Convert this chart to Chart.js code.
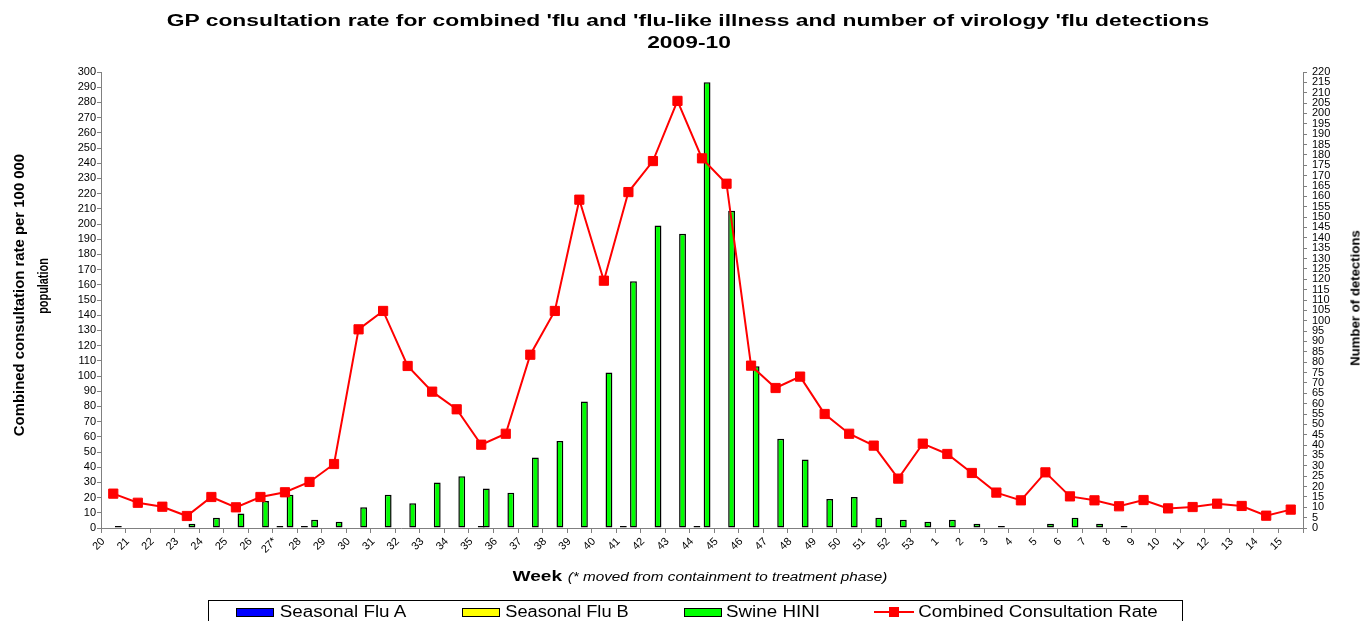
<!DOCTYPE html>
<html>
<head>
<meta charset="utf-8">
<script src="https://cdn.jsdelivr.net/npm/chart.js@4/dist/chart.umd.min.js"></script>
<style>
  body { margin: 0; width: 1372px; height: 621px; overflow: hidden; background: #fff; font-family: "Liberation Sans", Arial, sans-serif; }
  #wrap { position: absolute; left: 0; top: 0; width: 1372px; height: 621px; }
  .txt { position: absolute; white-space: nowrap; color: #000; line-height: 1; }
  .sw { position: absolute; height: 9px; border: 1px solid #000; box-sizing: border-box; }
  #legendBox { position: absolute; left: 208px; top: 600px; width: 975px; height: 40px; border: 1px solid #000; box-sizing: border-box; }
</style>
</head>
<body>
<div id="wrap"><canvas id="grafico"></canvas></div>

<div class="txt" id="t1" style="font-size:16px;font-weight:bold">GP consultation rate for combined 'flu and 'flu-like illness and number of virology 'flu detections</div>
<div class="txt" id="t2" style="font-size:16px;font-weight:bold">2009-10</div>
<div class="txt" id="yl1" style="font-size:14px;font-weight:bold">Combined consultation rate per 100 000</div>
<div class="txt" id="yl2" style="font-size:14px;font-weight:bold">population</div>
<div class="txt" id="yr" style="font-size:13px;font-weight:bold">Number of detections</div>
<div class="txt" id="xt"><span style="font-size:15px;font-weight:bold">Week</span> <span style="font-size:12px;font-style:italic">(* moved from containment to treatment phase)</span></div>

<div id="legendBox"></div>
<div class="sw" style="left:236px;top:608px;width:38px;background:#0000ff"></div>
<div class="txt" id="lg1" style="font-size:16px">Seasonal Flu A</div>
<div class="sw" style="left:462px;top:608px;width:38px;background:#ffff00"></div>
<div class="txt" id="lg2" style="font-size:16px">Seasonal Flu B</div>
<div class="sw" style="left:684px;top:608px;width:38px;background:#00ff00"></div>
<div class="txt" id="lg3" style="font-size:16px">Swine HINI</div>
<div style="position:absolute;left:874px;top:611px;width:40px;height:2px;background:#ff0000"></div>
<div style="position:absolute;left:889px;top:607px;width:10px;height:10px;background:#ff0000"></div>
<div class="txt" id="lg4" style="font-size:16px">Combined Consultation Rate</div>

<script>
// ===== Dados =====
const semanas = ['20','21','22','23','24','25','26','27*','28','29','30','31','32','33','34','35','36','37','38','39',
  '40','41','42','43','44','45','46','47','48','49','50','51','52','53',
  '1','2','3','4','5','6','7','8','9','10','11','12','13','14','15'];

// taxa de consulta (eixo esquerdo, por 100 000)
const taxaConsulta = [22.6,16.6,14,7.9,20.4,13.6,20.4,23.5,30.3,42.1,
  130.7,142.8,106.6,89.7,78.1,54.8,62,114,142.8,216,
  162.7,221,241.4,281,243.2,226.5,106.8,92.1,99.6,75,
  62,54.2,32.5,55.5,
  48.7,36.2,23.3,18.2,36.6,20.8,18.2,14.3,18.4,12.9,13.8,16,14.5,8.1,12.1];

// detecções (eixo direito)
const fluA = [null,null,null,null,null,null,null,1,1,null,null,null,null,null,null,null,null,null,null,null,
  null,1,null,null,1,null,null,null,null,null,null,null,null,null,
  null,null,null,null,null,null,null,null,null,null,null,null,null,null,null];
const fluB = [null,null,null,null,null,null,null,null,null,null,null,null,null,null,null,1,null,null,null,null,
  null,null,null,null,null,null,null,null,null,null,null,null,null,null,
  null,null,null,null,null,null,null,null,null,null,null,null,null,null,null];
const suina = [1,null,null,2,5,7,13,16,4,3,10,16,12,22,25,19,17,34,42,61,
  75,119,146,142,215,153,78,43,33,14,15,5,4,3,
  4,2,1,null,2,5,2,1,null,null,null,null,null,null,null];

const escalaEsq = { min: 0, max: 300, passo: 10 };
const escalaDir = { min: 0, max: 220, passo: 5 };

const fonte = '"Liberation Sans", Arial, sans-serif';
const cinza = '#808080';

function eixoY(posicao, esc, largura, pad) {
  return {
    position: posicao,
    min: esc.min, max: esc.max,
    ticks: { stepSize: esc.passo, autoSkip: false, color: '#000', padding: pad, font: { family: fonte, size: 11 } },
    grid: { drawOnChartArea: false, tickLength: 4, color: cinza },
    border: { color: cinza },
    afterFit: s => { s.width = largura; }
  };
}

const barra = (label, dados, cor) => ({
  type: 'bar', label, data: dados, yAxisID: 'y2', order: 1,
  backgroundColor: cor, borderColor: '#000', borderWidth: 1.5, borderSkipped: false,
  categoryPercentage: 0.62, barPercentage: 1.35
});

new Chart(document.getElementById('grafico'), {
  data: {
    labels: semanas,
    datasets: [
      {
        type: 'line', label: 'Combined Consultation Rate', data: taxaConsulta, yAxisID: 'y', order: 0,
        borderColor: '#ff0000', borderWidth: 2, tension: 0,
        pointStyle: 'rect', pointRadius: 6.5, pointBackgroundColor: '#ff0000', pointBorderColor: '#ff0000', pointBorderWidth: 1
      },
      barra('Seasonal Flu A', fluA, '#0000ff'),
      barra('Seasonal Flu B', fluB, '#ffff00'),
      barra('Swine HINI', suina, '#00ff00')
    ]
  },
  options: {
    responsive: true,
    maintainAspectRatio: false,
    animation: false,
    layout: { padding: { top: 72, left: 0, right: 0, bottom: 0 } },
    plugins: { legend: { display: false }, tooltip: { enabled: false }, title: { display: false } },
    scales: {
      x: {
        offset: true,
        grid: { offset: true, drawOnChartArea: false, tickLength: 5, color: cinza },
        border: { color: cinza },
        ticks: { minRotation: 45, maxRotation: 45, autoSkip: false, labelOffset: -10, padding: 2, color: '#000', font: { family: fonte, size: 11 } },
        afterFit: s => { s.height = 93; }
      },
      y: eixoY('left', escalaEsq, 101, 1),
      y2: eixoY('right', escalaDir, 69, 5)
    }
  }
});

// ===== Textos em HTML (esticados na horizontal como no original) =====
function colocar(id, cx, cy, comprimento, rot) {
  const el = document.getElementById(id);
  const s = comprimento / el.offsetWidth;
  el.style.left = cx + 'px';
  el.style.top = cy + 'px';
  el.style.transform = `translate(-50%,-50%) rotate(${rot || 0}deg) scaleX(${s})`;
}
colocar('t1', 688, 21, 1042);
colocar('t2', 689, 43, 84);
colocar('yl1', 19, 295, 282, -90);
colocar('yl2', 43, 286, 56, -90);
colocar('yr', 1355, 298, 136, -90);
colocar('xt', 700, 576, 375);
colocar('lg1', 343, 612, 127);
colocar('lg2', 567, 612, 124);
colocar('lg3', 773, 612, 94);
colocar('lg4', 1038, 612, 240);
</script>
</body>
</html>
